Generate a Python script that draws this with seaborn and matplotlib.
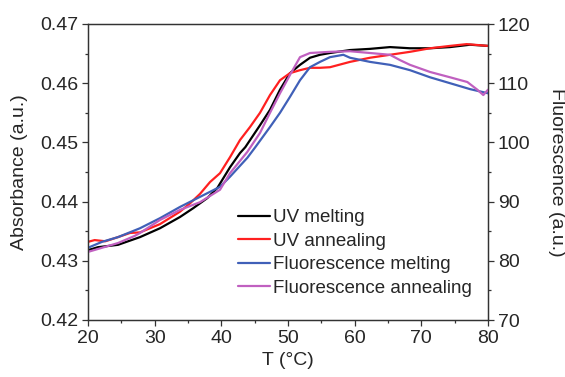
import matplotlib
matplotlib.use("Agg")
import matplotlib.pyplot as plt
import seaborn as sns
import pandas as pd
from matplotlib.ticker import MultipleLocator

# ---- data ----
t_uv_melt = [20, 21.5, 24.5, 27.8, 30.8, 33.8, 35.8, 37.9, 39.4, 41.3, 42.8, 43.6, 45.8, 47.3, 48.8,
             50.3, 51.8, 53.3, 54.8, 56.3, 59.3, 62.3, 65.3, 68.3, 71.3, 74.3, 77.3, 80]
a_uv_melt = [0.4318, 0.4323, 0.4327, 0.4340, 0.4355, 0.4374, 0.4389, 0.4406, 0.4423, 0.4458, 0.4482,
             0.4492, 0.4529, 0.4555, 0.4589, 0.4617, 0.4631, 0.4643, 0.4648, 0.4651, 0.4656, 0.4658,
             0.4661, 0.4659, 0.4659, 0.4661, 0.4665, 0.4663]

t_uv_ann = [20, 21, 22.6, 24.5, 26.3, 27.8, 30.8, 33.8, 35.3, 36.8, 38.3, 39.8, 41.3, 42.8, 44.3, 45.8,
            47.3, 48.8, 50.3, 51.8, 53.3, 54.8, 56.3, 59.3, 62.3, 65.3, 68.3, 71.3, 74.3, 76.8, 80]
a_uv_ann = [0.4332, 0.4335, 0.4333, 0.4340, 0.4347, 0.4348, 0.4362, 0.4383, 0.4397, 0.4413, 0.4433,
            0.4448, 0.4475, 0.4504, 0.4526, 0.4550, 0.4580, 0.4605, 0.4617, 0.4622, 0.4626, 0.4626,
            0.4627, 0.4636, 0.4643, 0.4648, 0.4653, 0.4659, 0.4663, 0.4666, 0.4663]

t_fl_melt = [20, 22.1, 24.5, 27.8, 30.8, 33.8, 36.8, 39.8, 41.3, 43.9, 45.1, 47.3, 48.8, 50.3, 51.8,
             53.3, 54.8, 56.3, 58.3, 59.3, 62.3, 65.3, 68.3, 71.3, 74.3, 77.3, 80]
f_fl_melt = [82.2, 83.2, 84.0, 85.5, 87.2, 89.1, 90.8, 92.5, 94.2, 97.4, 99.2, 102.6, 105.0, 107.7,
             110.5, 112.7, 113.6, 114.4, 114.8, 114.3, 113.6, 113.1, 112.2, 111.0, 110.0, 109.0, 108.3]

t_fl_ann = [20, 22.1, 24.5, 27, 27.8, 30.8, 33.8, 36.8, 39.8, 41.3, 43.9, 45.8, 47.3, 48.8, 50.3, 51.8,
            53.3, 56.3, 59.3, 62.3, 65.3, 66.8, 68.3, 71.3, 74.3, 76.9, 78.4, 79.3, 80]
f_fl_ann = [81.5, 82.2, 83.0, 84.2, 84.7, 86.9, 88.6, 89.9, 92.0, 94.8, 98.4, 101.6, 105.0, 108.3,
            111.4, 114.4, 115.1, 115.3, 115.4, 115.1, 114.8, 113.9, 113.1, 111.9, 111.0, 110.2,
            108.9, 108.0, 108.9]

labels = ["UV melting", "UV annealing", "Fluorescence melting", "Fluorescence annealing"]
colors = ["#000000", "#ff2020", "#4060b8", "#c060c0"]

x_ticks = [20, 30, 40, 50, 60, 70, 80]
y_left_ticks = [0.42, 0.43, 0.44, 0.45, 0.46, 0.47]
y_right_ticks = [70, 80, 90, 100, 110, 120]

# ---- style ----
sns.set_style("ticks")
plt.rcParams["font.family"] = ["Liberation Sans", "DejaVu Sans"]
plt.rcParams["axes.linewidth"] = 0.9

fig = plt.figure(figsize=(5.65, 3.77), dpi=100)
ax = fig.add_axes([88 / 565, 1 - 320 / 377, 400 / 565, 296 / 377])
ax2 = ax.twinx()

df1 = pd.DataFrame({"T": t_uv_melt, "v": a_uv_melt})
df2 = pd.DataFrame({"T": t_uv_ann, "v": a_uv_ann})
df3 = pd.DataFrame({"T": t_fl_melt, "v": f_fl_melt})
df4 = pd.DataFrame({"T": t_fl_ann, "v": f_fl_ann})

lw = 1.6
sns.lineplot(data=df1, x="T", y="v", ax=ax, color=colors[0], lw=lw, label=labels[0], legend=False)
sns.lineplot(data=df2, x="T", y="v", ax=ax, color=colors[1], lw=lw, label=labels[1], legend=False)
sns.lineplot(data=df3, x="T", y="v", ax=ax2, color=colors[2], lw=lw, label=labels[2], legend=False)
sns.lineplot(data=df4, x="T", y="v", ax=ax2, color=colors[3], lw=lw, label=labels[3], legend=False)

ax.set_xlim(20, 80)
ax.set_ylim(0.42, 0.47)
ax2.set_ylim(70, 120)

ax.set_xticks(x_ticks)
ax.set_yticks(y_left_ticks)
ax.set_yticklabels([f"{v:.2f}" for v in y_left_ticks])
ax2.set_yticks(y_right_ticks)
ax.xaxis.set_minor_locator(MultipleLocator(5))
ax.yaxis.set_minor_locator(MultipleLocator(0.005))
ax2.yaxis.set_minor_locator(MultipleLocator(5))

fs = 14
for a in (ax, ax2):
    a.tick_params(which="major", direction="out", length=4, width=0.9, labelsize=fs, pad=3,
                  color="#333333")
    a.tick_params(which="minor", direction="out", length=2.5, width=0.9, color="#333333")
    for s in a.spines.values():
        s.set_color("#333333")
        s.set_visible(True)

ax.set_xlabel("T (°C)", fontsize=fs, labelpad=4)
ax.set_ylabel("Absorbance (a.u.)", fontsize=fs, labelpad=9)
ax2.set_ylabel("Fluorescence (a.u.)", fontsize=fs, rotation=270, labelpad=25)

h1, l1 = ax.get_legend_handles_labels()
h2, l2 = ax2.get_legend_handles_labels()
leg = ax2.legend(h1 + h2, l1 + l2, loc="upper left", bbox_to_anchor=(0.375, 0.375),
                 frameon=False, fontsize=13.5, handlelength=1.7, handletextpad=0.16,
                 labelspacing=0.34, borderpad=0, borderaxespad=0)

fig.savefig("out.png", dpi=100)
